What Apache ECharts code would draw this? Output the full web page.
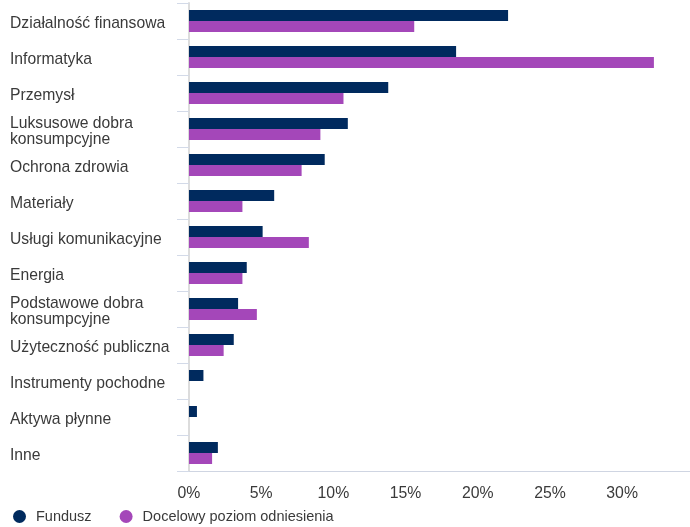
<!DOCTYPE html>
<html><head><meta charset="utf-8">
<script src="https://cdn.jsdelivr.net/npm/echarts@6/dist/echarts.min.js"></script>
<style>html,body{margin:0;padding:0;background:#fff}#c{width:690px;height:527px}</style>
</head><body><div id="c"></div>
<script>
var categories = ["Działalność finansowa","Informatyka","Przemysł","Luksusowe dobra\nkonsumpcyjne","Ochrona zdrowia","Materiały","Usługi komunikacyjne","Energia","Podstawowe dobra\nkonsumpcyjne","Użyteczność publiczna","Instrumenty pochodne","Aktywa płynne","Inne"];
var fundusz = [22.1,18.5,13.8,11.0,9.4,5.9,5.1,4.0,3.4,3.1,1.0,0.55,2.0];
var benchmark = [15.6,32.2,10.7,9.1,7.8,3.7,8.3,3.7,4.7,2.4,0,0,1.6];
var seriesNames = ["Fundusz","Docelowy poziom odniesienia"];
var chart = echarts.init(document.getElementById('c'));
var font = "'Liberation Sans', Arial, sans-serif";
chart.setOption({
  animation:false,
  textStyle:{fontFamily:font},
  legend:{left:13,bottom:3,padding:0,icon:'circle',itemWidth:13,itemHeight:13,itemGap:28,
    textStyle:{fontSize:14.5,color:'#3a3a3a',fontFamily:font,padding:[0,0,0,5]},data:seriesNames},
  grid:{left:189,right:0,top:3,bottom:56,containLabel:false},
  xAxis:{type:'value',min:0,max:34.7,interval:5,
    axisLine:{show:true,lineStyle:{color:'#cfd5e2',width:1}},
    axisTick:{show:false},splitLine:{show:false},
    axisLabel:{formatter:'{value}%',fontSize:15.8,color:'#3a3a3a',margin:15,showMaxLabel:false,fontFamily:font}},
  yAxis:{type:'category',inverse:true,data:categories,
    axisLine:{show:true,lineStyle:{color:'#dcdcdc',width:2}},
    axisTick:{show:true,length:12,lineStyle:{color:'#d3dae8'}},
    axisLabel:{align:'left',margin:179,fontSize:15.7,color:'#3a3a3a',lineHeight:16,fontFamily:font,
      formatter:function(v){return '{s| }\n'+v.split('\n').map(function(l){return '{a|'+l+'}';}).join('\n');},
      rich:{s:{fontSize:1,lineHeight:6},
            a:{fontSize:15.7,lineHeight:16,color:'#3a3a3a',fontFamily:font}}}},
  series:[
    {name:seriesNames[0],type:'bar',data:fundusz,barWidth:11,barGap:'0%',itemStyle:{color:'#002a5e'}},
    {name:seriesNames[1],type:'bar',data:benchmark,barWidth:11,barGap:'0%',itemStyle:{color:'#a447b9'}}
  ]
});
</script></body></html>
